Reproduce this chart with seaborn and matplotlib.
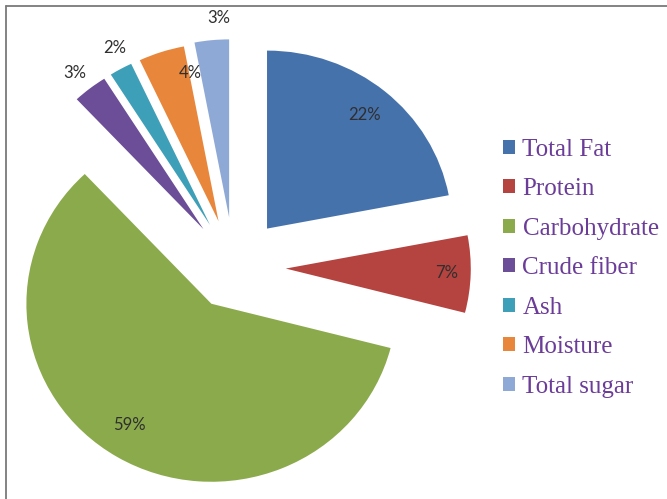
import matplotlib
matplotlib.use("Agg")
import numpy as np
import matplotlib.pyplot as plt
import seaborn as sns
from matplotlib.lines import Line2D

# Composition data
components = ["Total Fat", "Protein", "Carbohydrate", "Crude fiber", "Ash", "Moisture", "Total sugar"]
shares = [22, 7, 59, 3, 2, 4, 3]
share_labels = ["22%", "7%", "59%", "3%", "2%", "4%", "3%"]

# Styling per slice
slice_colors = ["#4672AC", "#B5433F", "#8BAA4C", "#6B4E97", "#3E9FB8", "#E8873B", "#8FA9D6"]
offsets = [0.28, 0.28, 0.24, 0.27, 0.27, 0.27, 0.28]
label_radius = [0.83, 0.87, 0.81, 1.12, 1.12, 0.85, 1.12]
label_turn = [0, 0, -2.5, 0.5, -1.5, -7.5, -2.5]   # degrees, nudges label along the arc

sns.set_theme(style="white")
plt.rcParams["font.family"] = ["Lato", "DejaVu Sans"]

W, H = 667, 499
fig = plt.figure(figsize=(W / 100, H / 100), dpi=100)
fig.patch.set_facecolor("white")
ax = fig.add_axes([0, 0, 1, 1])

wedges, _ = ax.pie(shares, colors=slice_colors, explode=offsets, startangle=90,
                   counterclock=False, radius=1.0, center=(0, 0),
                   wedgeprops=dict(linewidth=0))

# slightly wider than tall, as in the original chart frame
cx, cy = 234, 267
sx, sy = 185.0, 178.0
ax.set_aspect("auto")
ax.set_xlim(-cx / sx, (W - cx) / sx)
ax.set_ylim(-(H - cy) / sy, cy / sy)
ax.axis("off")

for w, lab, r, dt in zip(wedges, share_labels, label_radius, label_turn):
    th = np.deg2rad((w.theta1 + w.theta2) / 2 + dt)
    x0, y0 = w.center
    ax.text(x0 + r * np.cos(th), y0 + r * np.sin(th), lab, ha="center", va="center",
            fontsize=12, color="#2f2f2f")

ax.legend(wedges, components, loc="upper left",
          bbox_to_anchor=(490 / W, 1 - 126 / H), bbox_transform=fig.transFigure,
          frameon=False, borderpad=0, handlelength=0.5, handleheight=0.5,
          handletextpad=0.3, labelspacing=0.70,
          prop=dict(family="Liberation Serif", size=18), labelcolor="#6B3C98")

# Frame lines along top and left edge
fig.add_artist(Line2D([5.5 / W, 1], [1 - 5.5 / H] * 2, transform=fig.transFigure,
                      color="#7a7a7a", lw=1.3))
fig.add_artist(Line2D([5.5 / W] * 2, [0, 1 - 5.5 / H], transform=fig.transFigure,
                      color="#7a7a7a", lw=1.3))

fig.savefig("out.png", dpi=100)
